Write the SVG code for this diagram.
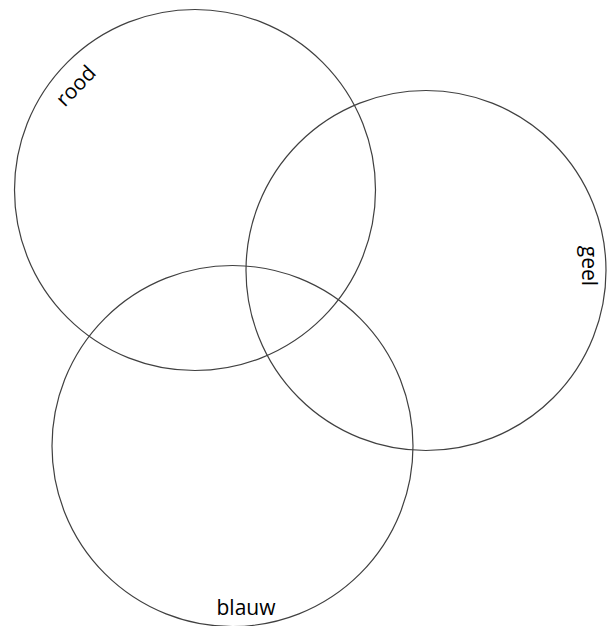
<svg xmlns="http://www.w3.org/2000/svg" width="612" height="626" viewBox="0 0 612 626">
<style>
.c{fill:none;stroke:#404040;stroke-width:1.2}
.t{font-family:"Open Sans","Liberation Sans",sans-serif;font-size:21px;fill:#000;text-anchor:middle}
</style>
<rect width="612" height="626" fill="#fff"/>
<g id="rood">
<circle class="c" cx="195" cy="190" r="180.5"/>
<text class="t" transform="translate(76,86) rotate(-46)" y="7">rood</text>
</g>
<g id="geel">
<circle class="c" cx="426" cy="270.5" r="180"/>
<text class="t" transform="translate(588,266) rotate(90)" y="6">geel</text>
</g>
<g id="blauw">
<circle class="c" cx="232.5" cy="446" r="180.5"/>
<text class="t" x="246" y="615">blauw</text>
</g>
<g id="connectors"/>
</svg>
